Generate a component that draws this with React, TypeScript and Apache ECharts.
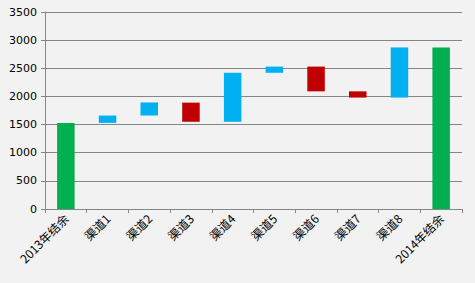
import React, { useEffect, useRef } from "react";
import * as echarts from "echarts";

const categories = ["2013年结余", "渠道1", "渠道2", "渠道3", "渠道4", "渠道5", "渠道6", "渠道7", "渠道8", "2014年结余"];
const startBalance = 1530;
const changes = [130, 230, -340, 870, 110, -440, -110, 890];
const yTicks = [0, 500, 1000, 1500, 2000, 2500, 3000, 3500];

export default function App() {
  const ref = useRef<HTMLDivElement>(null);
  useEffect(() => {
    const chart = echarts.init(ref.current!, null, { renderer: "svg" });
    const base: any[] = [];
    const inc: any[] = [];
    const dec: any[] = [];
    const total: any[] = [];
    let run = startBalance;
    base.push("-"); inc.push("-"); dec.push("-"); total.push(startBalance);
    changes.forEach((c) => {
      const next = run + c;
      base.push(Math.min(run, next));
      inc.push(c > 0 ? c : "-");
      dec.push(c < 0 ? -c : "-");
      total.push("-");
      run = next;
    });
    base.push("-"); inc.push("-"); dec.push("-"); total.push(run);

    chart.setOption({
      animation: false,
      backgroundColor: "#F2F2F2",
      grid: { left: 45, right: 13, top: 12, bottom: 74 },
      xAxis: {
        type: "category",
        data: categories,
        boundaryGap: true,
        axisLine: { lineStyle: { color: "#868686", width: 1 } },
        axisTick: { show: true, length: 4, inside: false, lineStyle: { color: "#868686" } },
        axisLabel: { rotate: 45, color: "#000", fontSize: 12, fontFamily: "'Noto Sans CJK SC', sans-serif", interval: 0, margin: 7 },
      },
      yAxis: {
        type: "value",
        min: yTicks[0],
        max: yTicks[yTicks.length - 1],
        interval: 500,
        axisLine: { show: true, lineStyle: { color: "#868686" } },
        axisTick: { show: true, length: 4, lineStyle: { color: "#868686" } },
        axisLabel: { color: "#000", fontSize: 11, fontFamily: "'DejaVu Sans', sans-serif", margin: 8, formatter: (v: number) => String(v) },
        splitLine: { lineStyle: { color: "#868686", width: 1 } },
      },
      series: [
        { type: "bar", stack: "w", data: base, itemStyle: { color: "transparent" }, barWidth: "42%" },
        { type: "bar", stack: "w", data: inc, itemStyle: { color: "#00B0F0" }, barWidth: "42%" },
        { type: "bar", stack: "w", data: dec, itemStyle: { color: "#C00000" }, barWidth: "42%" },
        { type: "bar", stack: "w", data: total, itemStyle: { color: "#00B050" }, barWidth: "42%" },
      ],
    });
    return () => chart.dispose();
  }, []);
  return <div ref={ref} style={{ width: 475, height: 283, position: "absolute", left: 0, top: 0 }} />;
}
